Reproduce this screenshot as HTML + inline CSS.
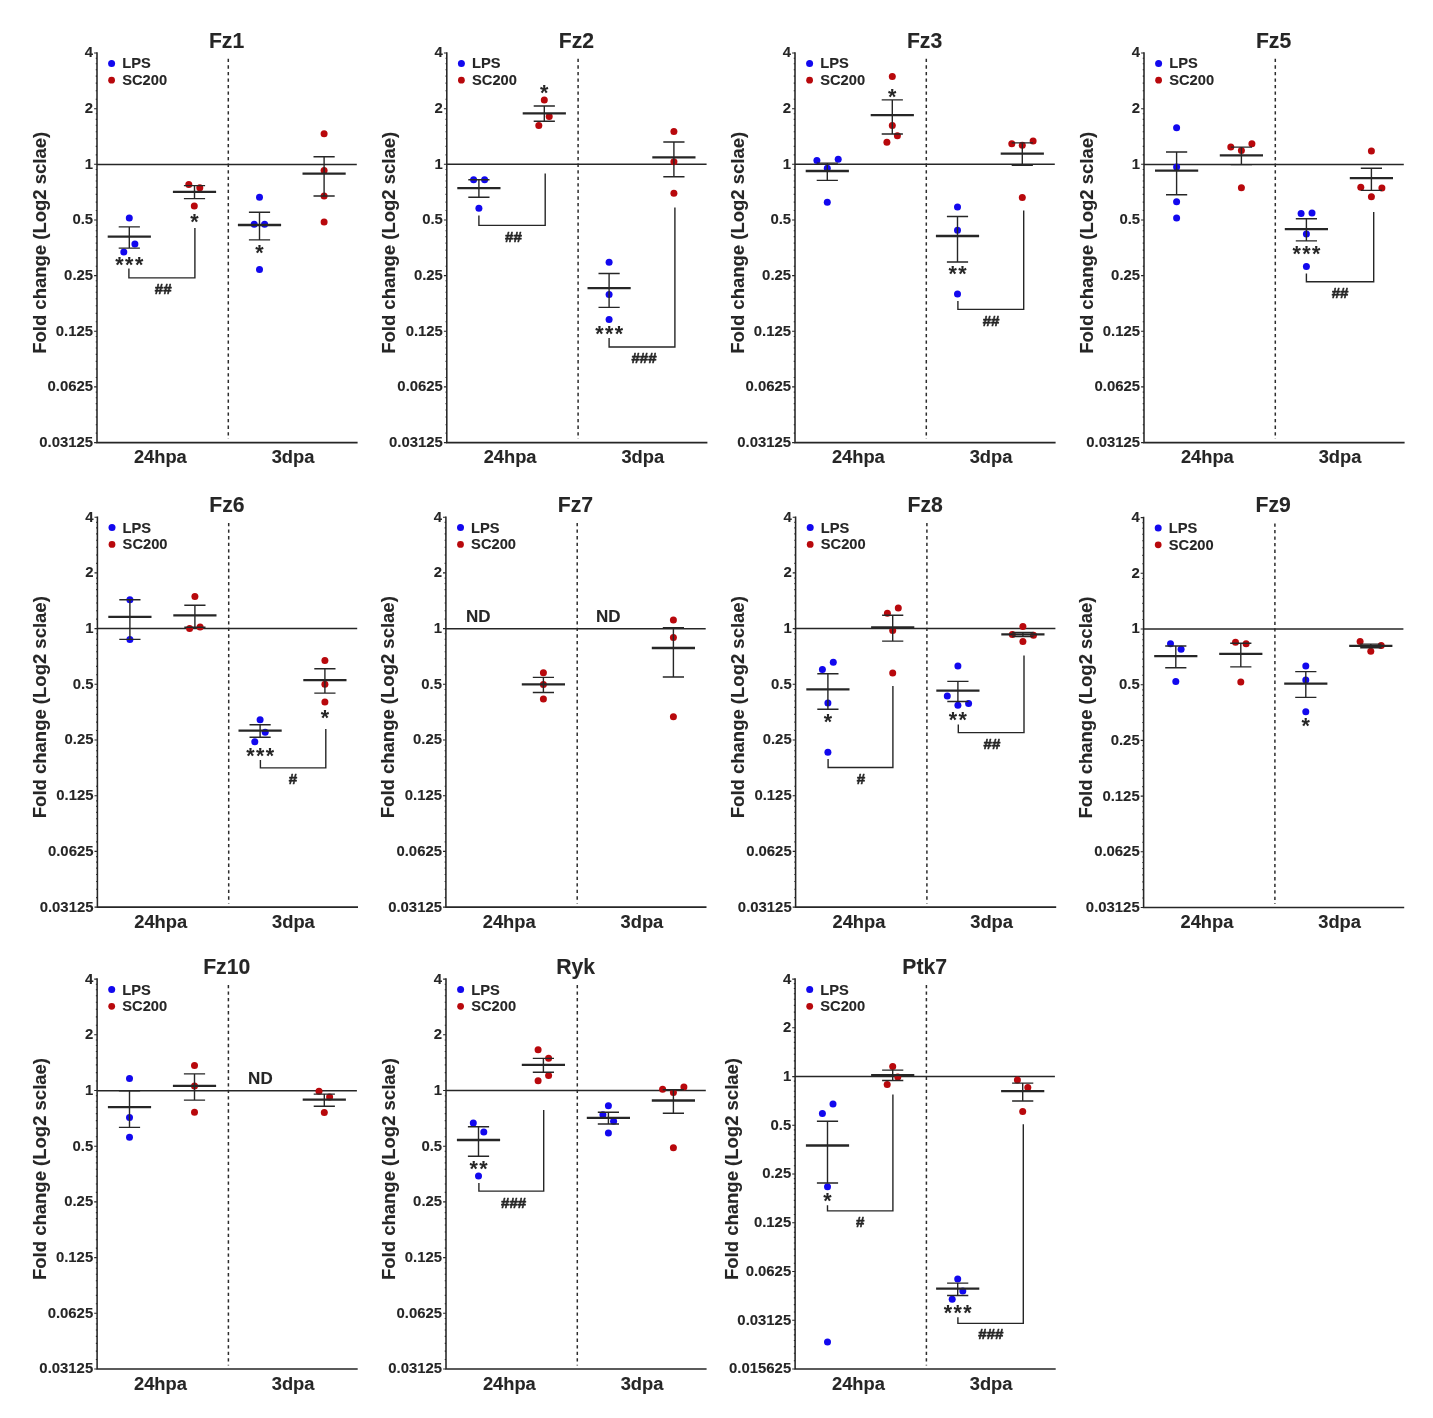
<!DOCTYPE html>
<html lang="en"><head><meta charset="utf-8"><title>Fz receptor expression</title>
<style>
html,body{margin:0;padding:0;background:#fff}
svg{display:block;filter:blur(0.7px)}
text{font-family:"Liberation Sans",sans-serif;fill:#262626;stroke:#262626;stroke-width:0.1px;stroke-linejoin:round}
.b{font-weight:bold}
.t{font-size:14.9px;font-weight:bold;text-anchor:end}
.ti{font-size:21.2px;font-weight:bold;text-anchor:middle}
.xl{font-size:18.3px;font-weight:bold;text-anchor:middle}
.yl{font-size:18.5px;font-weight:bold;text-anchor:middle}
.lg{font-size:14.7px;font-weight:bold}
.st{font-size:21.5px;text-anchor:middle;font-weight:bold;letter-spacing:1.4px;stroke-width:0}
.hs{font-size:15.1px;text-anchor:middle;font-weight:bold;stroke-width:0.55px}
.nd{font-size:17px;font-weight:bold;text-anchor:middle}
.ln{stroke:#262626;fill:none}
</style></head><body>
<svg width="1433" height="1418" viewBox="0 0 1433 1418">
<rect width="1433" height="1418" fill="#fff"/>
<g>
<text class="ti" x="226.6" y="47.7">Fz1</text>
<text class="yl" transform="translate(45.5 242.8) rotate(-90)">Fold change (Log2 sclae)</text>
<line x1="228.3" y1="58.8" x2="228.3" y2="439.1" stroke="#2c2c2c" stroke-width="1.5" stroke-dasharray="3.3 3.25"/>
<line class="ln" x1="97" y1="164.4" x2="356.8" y2="164.4" stroke-width="1.5"/>
<path class="ln" d="M97 52.2V442.6H357.6" stroke-width="1.55"/>
<text class="t" x="93.1" y="57.4">4</text>
<text class="t" x="93.1" y="113">2</text>
<text class="t" x="93.1" y="168.7">1</text>
<text class="t" x="93.1" y="224.3">0.5</text>
<text class="t" x="93.1" y="280">0.25</text>
<text class="t" x="93.1" y="335.6">0.125</text>
<text class="t" x="93.1" y="391.3">0.0625</text>
<text class="t" x="93.1" y="447">0.03125</text>
<path class="ln" d="M97 53h-2.9M97 108.7h-2.9M97 164.3h-2.9M97 220h-2.9M97 275.6h-2.9M97 331.3h-2.9M97 386.9h-2.9M97 442.6h-2.9M97 99.2h-1.25M97 90.7h-1.25M97 83.1h-1.25M97 76.1h-1.25M97 69.7h-1.25M97 63.7h-1.25M97 58.2h-1.25M97 154.9h-1.25M97 146.4h-1.25M97 138.7h-1.25M97 131.8h-1.25M97 125.3h-1.25M97 119.4h-1.25M97 113.8h-1.25M97 210.5h-1.25M97 202.1h-1.25M97 194.4h-1.25M97 187.4h-1.25M97 181h-1.25M97 175h-1.25M97 169.5h-1.25M97 266.2h-1.25M97 257.7h-1.25M97 250.1h-1.25M97 243.1h-1.25M97 236.6h-1.25M97 230.7h-1.25M97 225.2h-1.25M97 321.8h-1.25M97 313.4h-1.25M97 305.7h-1.25M97 298.7h-1.25M97 292.3h-1.25M97 286.4h-1.25M97 280.8h-1.25M97 377.5h-1.25M97 369h-1.25M97 361.4h-1.25M97 354.4h-1.25M97 348h-1.25M97 342h-1.25M97 336.5h-1.25M97 433.1h-1.25M97 424.7h-1.25M97 417h-1.25M97 410h-1.25M97 403.6h-1.25M97 397.7h-1.25M97 392.1h-1.25" stroke-width="1.1"/>
<text class="xl" x="160.3" y="463.2">24hpa</text>
<text class="xl" x="293" y="463.2">3dpa</text>
<circle cx="111.6" cy="63.4" r="3.5" fill="#1208ee"/><circle cx="111.6" cy="80.2" r="3.4" fill="#b8080c"/>
<text class="lg" x="122.2" y="68.4">LPS</text><text class="lg" x="122.2" y="85.1">SC200</text>
<circle cx="129.3" cy="218" r="3.5" fill="#1208ee"/><circle cx="134.9" cy="244" r="3.5" fill="#1208ee"/><circle cx="123.8" cy="251.9" r="3.5" fill="#1208ee"/>
<circle cx="188.8" cy="184.5" r="3.5" fill="#b8080c"/><circle cx="199.8" cy="187.8" r="3.5" fill="#b8080c"/><circle cx="194.3" cy="206.1" r="3.5" fill="#b8080c"/>
<circle cx="259.5" cy="197.3" r="3.5" fill="#1208ee"/><circle cx="254.2" cy="224.2" r="3.5" fill="#1208ee"/><circle cx="264.6" cy="224.2" r="3.5" fill="#1208ee"/><circle cx="259.5" cy="269.4" r="3.5" fill="#1208ee"/>
<circle cx="324.1" cy="133.8" r="3.5" fill="#b8080c"/><circle cx="324.1" cy="170.5" r="3.5" fill="#b8080c"/><circle cx="324.1" cy="196" r="3.5" fill="#b8080c"/><circle cx="324.1" cy="222" r="3.5" fill="#b8080c"/>
<path class="ln" d="M129.3 226.9V248.1M118.7 226.9h21.2M118.7 248.1h21.2" stroke-width="1.4"/><line class="ln" x1="107.7" y1="236.7" x2="150.9" y2="236.7" stroke-width="2.3"/>
<path class="ln" d="M194.5 185.6V198.6M183.9 185.6h21.2M183.9 198.6h21.2" stroke-width="1.4"/><line class="ln" x1="172.9" y1="191.8" x2="216.1" y2="191.8" stroke-width="2.3"/>
<path class="ln" d="M259.5 212.2V239.9M248.9 212.2h21.2M248.9 239.9h21.2" stroke-width="1.4"/><line class="ln" x1="237.9" y1="225" x2="281.1" y2="225" stroke-width="2.3"/>
<path class="ln" d="M324.1 156.8V196M313.5 156.8h21.2M313.5 196h21.2" stroke-width="1.4"/><line class="ln" x1="302.5" y1="173.7" x2="345.7" y2="173.7" stroke-width="2.3"/>
<path class="ln" d="M128.9 268.5V277.9H194.9V228" stroke-width="1.4"/>
<text class="st" x="130" y="271.6">***</text>
<text class="st" x="195.2" y="228.8">*</text>
<text class="st" x="260.2" y="259.7">*</text>
<text class="hs" x="163.2" y="294.3">##</text>
</g>
<g>
<text class="ti" x="576.4" y="47.7">Fz2</text>
<text class="yl" transform="translate(395.3 242.8) rotate(-90)">Fold change (Log2 sclae)</text>
<line x1="578.1" y1="58.8" x2="578.1" y2="439.1" stroke="#2c2c2c" stroke-width="1.5" stroke-dasharray="3.3 3.25"/>
<line class="ln" x1="446.8" y1="164.3" x2="706.6" y2="164.3" stroke-width="1.5"/>
<path class="ln" d="M446.8 52.2V442.6H707.4" stroke-width="1.55"/>
<text class="t" x="442.9" y="57.4">4</text>
<text class="t" x="442.9" y="113">2</text>
<text class="t" x="442.9" y="168.7">1</text>
<text class="t" x="442.9" y="224.3">0.5</text>
<text class="t" x="442.9" y="280">0.25</text>
<text class="t" x="442.9" y="335.6">0.125</text>
<text class="t" x="442.9" y="391.3">0.0625</text>
<text class="t" x="442.9" y="447">0.03125</text>
<path class="ln" d="M446.8 53h-2.9M446.8 108.7h-2.9M446.8 164.3h-2.9M446.8 220h-2.9M446.8 275.6h-2.9M446.8 331.3h-2.9M446.8 386.9h-2.9M446.8 442.6h-2.9M446.8 99.2h-1.25M446.8 90.7h-1.25M446.8 83.1h-1.25M446.8 76.1h-1.25M446.8 69.7h-1.25M446.8 63.7h-1.25M446.8 58.2h-1.25M446.8 154.9h-1.25M446.8 146.4h-1.25M446.8 138.7h-1.25M446.8 131.8h-1.25M446.8 125.3h-1.25M446.8 119.4h-1.25M446.8 113.8h-1.25M446.8 210.5h-1.25M446.8 202.1h-1.25M446.8 194.4h-1.25M446.8 187.4h-1.25M446.8 181h-1.25M446.8 175h-1.25M446.8 169.5h-1.25M446.8 266.2h-1.25M446.8 257.7h-1.25M446.8 250.1h-1.25M446.8 243.1h-1.25M446.8 236.6h-1.25M446.8 230.7h-1.25M446.8 225.2h-1.25M446.8 321.8h-1.25M446.8 313.4h-1.25M446.8 305.7h-1.25M446.8 298.7h-1.25M446.8 292.3h-1.25M446.8 286.4h-1.25M446.8 280.8h-1.25M446.8 377.5h-1.25M446.8 369h-1.25M446.8 361.4h-1.25M446.8 354.4h-1.25M446.8 348h-1.25M446.8 342h-1.25M446.8 336.5h-1.25M446.8 433.1h-1.25M446.8 424.7h-1.25M446.8 417h-1.25M446.8 410h-1.25M446.8 403.6h-1.25M446.8 397.7h-1.25M446.8 392.1h-1.25" stroke-width="1.1"/>
<text class="xl" x="510.1" y="463.2">24hpa</text>
<text class="xl" x="642.8" y="463.2">3dpa</text>
<circle cx="461.4" cy="63.4" r="3.5" fill="#1208ee"/><circle cx="461.4" cy="80.2" r="3.4" fill="#b8080c"/>
<text class="lg" x="472" y="68.4">LPS</text><text class="lg" x="472" y="85.1">SC200</text>
<circle cx="473.6" cy="179.7" r="3.5" fill="#1208ee"/><circle cx="484.6" cy="179.7" r="3.5" fill="#1208ee"/><circle cx="478.9" cy="208.3" r="3.5" fill="#1208ee"/>
<circle cx="544.3" cy="99.9" r="3.5" fill="#b8080c"/><circle cx="549.2" cy="116.5" r="3.5" fill="#b8080c"/><circle cx="538.8" cy="125.6" r="3.5" fill="#b8080c"/>
<circle cx="609.1" cy="262.2" r="3.5" fill="#1208ee"/><circle cx="609.1" cy="294.6" r="3.5" fill="#1208ee"/><circle cx="609.1" cy="319.5" r="3.5" fill="#1208ee"/>
<circle cx="673.9" cy="131.6" r="3.5" fill="#b8080c"/><circle cx="673.9" cy="161.8" r="3.5" fill="#b8080c"/><circle cx="673.9" cy="193.2" r="3.5" fill="#b8080c"/>
<path class="ln" d="M478.9 179.7V197.2M468.3 179.7h21.2M468.3 197.2h21.2" stroke-width="1.4"/><line class="ln" x1="457.3" y1="188.1" x2="500.5" y2="188.1" stroke-width="2.3"/>
<path class="ln" d="M544.3 106V121.2M533.7 106h21.2M533.7 121.2h21.2" stroke-width="1.4"/><line class="ln" x1="522.7" y1="113.3" x2="565.9" y2="113.3" stroke-width="2.3"/>
<path class="ln" d="M609.1 273.5V307.4M598.5 273.5h21.2M598.5 307.4h21.2" stroke-width="1.4"/><line class="ln" x1="587.5" y1="288.2" x2="630.7" y2="288.2" stroke-width="2.3"/>
<path class="ln" d="M673.9 142V176.8M663.3 142h21.2M663.3 176.8h21.2" stroke-width="1.4"/><line class="ln" x1="652.3" y1="157.4" x2="695.5" y2="157.4" stroke-width="2.3"/>
<path class="ln" d="M478.9 215.5V225.4H545.2V173.6" stroke-width="1.4"/>
<path class="ln" d="M609.1 338.1V347H674.9V207.5" stroke-width="1.4"/>
<text class="st" x="545" y="99.8">*</text>
<text class="st" x="609.8" y="341.2">***</text>
<text class="hs" x="513.4" y="242">##</text>
<text class="hs" x="644" y="363.4">###</text>
</g>
<g>
<text class="ti" x="924.6" y="47.7">Fz3</text>
<text class="yl" transform="translate(743.5 242.8) rotate(-90)">Fold change (Log2 sclae)</text>
<line x1="926.3" y1="58.8" x2="926.3" y2="439.1" stroke="#2c2c2c" stroke-width="1.5" stroke-dasharray="3.3 3.25"/>
<line class="ln" x1="795" y1="164.2" x2="1054.8" y2="164.2" stroke-width="1.5"/>
<path class="ln" d="M795 52.2V442.6H1055.6" stroke-width="1.55"/>
<text class="t" x="791.1" y="57.4">4</text>
<text class="t" x="791.1" y="113">2</text>
<text class="t" x="791.1" y="168.7">1</text>
<text class="t" x="791.1" y="224.3">0.5</text>
<text class="t" x="791.1" y="280">0.25</text>
<text class="t" x="791.1" y="335.6">0.125</text>
<text class="t" x="791.1" y="391.3">0.0625</text>
<text class="t" x="791.1" y="447">0.03125</text>
<path class="ln" d="M795 53h-2.9M795 108.7h-2.9M795 164.3h-2.9M795 220h-2.9M795 275.6h-2.9M795 331.3h-2.9M795 386.9h-2.9M795 442.6h-2.9M795 99.2h-1.25M795 90.7h-1.25M795 83.1h-1.25M795 76.1h-1.25M795 69.7h-1.25M795 63.7h-1.25M795 58.2h-1.25M795 154.9h-1.25M795 146.4h-1.25M795 138.7h-1.25M795 131.8h-1.25M795 125.3h-1.25M795 119.4h-1.25M795 113.8h-1.25M795 210.5h-1.25M795 202.1h-1.25M795 194.4h-1.25M795 187.4h-1.25M795 181h-1.25M795 175h-1.25M795 169.5h-1.25M795 266.2h-1.25M795 257.7h-1.25M795 250.1h-1.25M795 243.1h-1.25M795 236.6h-1.25M795 230.7h-1.25M795 225.2h-1.25M795 321.8h-1.25M795 313.4h-1.25M795 305.7h-1.25M795 298.7h-1.25M795 292.3h-1.25M795 286.4h-1.25M795 280.8h-1.25M795 377.5h-1.25M795 369h-1.25M795 361.4h-1.25M795 354.4h-1.25M795 348h-1.25M795 342h-1.25M795 336.5h-1.25M795 433.1h-1.25M795 424.7h-1.25M795 417h-1.25M795 410h-1.25M795 403.6h-1.25M795 397.7h-1.25M795 392.1h-1.25" stroke-width="1.1"/>
<text class="xl" x="858.3" y="463.2">24hpa</text>
<text class="xl" x="991" y="463.2">3dpa</text>
<circle cx="809.6" cy="63.4" r="3.5" fill="#1208ee"/><circle cx="809.6" cy="80.2" r="3.4" fill="#b8080c"/>
<text class="lg" x="820.2" y="68.4">LPS</text><text class="lg" x="820.2" y="85.1">SC200</text>
<circle cx="816.9" cy="160.6" r="3.5" fill="#1208ee"/><circle cx="838.2" cy="159.3" r="3.5" fill="#1208ee"/><circle cx="827.3" cy="168.3" r="3.5" fill="#1208ee"/><circle cx="827.3" cy="202.3" r="3.5" fill="#1208ee"/>
<circle cx="892.3" cy="76.4" r="3.5" fill="#b8080c"/><circle cx="892.3" cy="125.4" r="3.5" fill="#b8080c"/><circle cx="897.4" cy="135.7" r="3.5" fill="#b8080c"/><circle cx="886.9" cy="142.3" r="3.5" fill="#b8080c"/>
<circle cx="957.5" cy="207.1" r="3.5" fill="#1208ee"/><circle cx="957.5" cy="230.3" r="3.5" fill="#1208ee"/><circle cx="957.5" cy="294" r="3.5" fill="#1208ee"/>
<circle cx="1011.8" cy="143.7" r="3.5" fill="#b8080c"/><circle cx="1022.3" cy="145.2" r="3.5" fill="#b8080c"/><circle cx="1033.1" cy="141" r="3.5" fill="#b8080c"/><circle cx="1022.3" cy="197.4" r="3.5" fill="#b8080c"/>
<path class="ln" d="M827.3 163.1V180.4M816.7 163.1h21.2M816.7 180.4h21.2" stroke-width="1.4"/><line class="ln" x1="805.7" y1="171" x2="848.9" y2="171" stroke-width="2.3"/>
<path class="ln" d="M892.3 99.9V134M881.7 99.9h21.2M881.7 134h21.2" stroke-width="1.4"/><line class="ln" x1="870.7" y1="115.2" x2="913.9" y2="115.2" stroke-width="2.3"/>
<path class="ln" d="M957.5 216.5V262M946.9 216.5h21.2M946.9 262h21.2" stroke-width="1.4"/><line class="ln" x1="935.9" y1="236" x2="979.1" y2="236" stroke-width="2.3"/>
<path class="ln" d="M1022.3 142.9V165.3M1011.7 142.9h21.2M1011.7 165.3h21.2" stroke-width="1.4"/><line class="ln" x1="1000.7" y1="153.6" x2="1043.9" y2="153.6" stroke-width="2.3"/>
<path class="ln" d="M957.9 301V309.4H1023.7V210.5" stroke-width="1.4"/>
<text class="st" x="893" y="103.6">*</text>
<text class="st" x="958.2" y="280.5">**</text>
<text class="hs" x="991.1" y="326.2">##</text>
</g>
<g>
<text class="ti" x="1273.6" y="47.7">Fz5</text>
<text class="yl" transform="translate(1092.5 242.8) rotate(-90)">Fold change (Log2 sclae)</text>
<line x1="1275.3" y1="58.8" x2="1275.3" y2="439.1" stroke="#2c2c2c" stroke-width="1.5" stroke-dasharray="3.3 3.25"/>
<line class="ln" x1="1144" y1="164.4" x2="1403.8" y2="164.4" stroke-width="1.5"/>
<path class="ln" d="M1144 52.2V442.6H1404.6" stroke-width="1.55"/>
<text class="t" x="1140.1" y="57.4">4</text>
<text class="t" x="1140.1" y="113">2</text>
<text class="t" x="1140.1" y="168.7">1</text>
<text class="t" x="1140.1" y="224.3">0.5</text>
<text class="t" x="1140.1" y="280">0.25</text>
<text class="t" x="1140.1" y="335.6">0.125</text>
<text class="t" x="1140.1" y="391.3">0.0625</text>
<text class="t" x="1140.1" y="447">0.03125</text>
<path class="ln" d="M1144 53h-2.9M1144 108.7h-2.9M1144 164.3h-2.9M1144 220h-2.9M1144 275.6h-2.9M1144 331.3h-2.9M1144 386.9h-2.9M1144 442.6h-2.9M1144 99.2h-1.25M1144 90.7h-1.25M1144 83.1h-1.25M1144 76.1h-1.25M1144 69.7h-1.25M1144 63.7h-1.25M1144 58.2h-1.25M1144 154.9h-1.25M1144 146.4h-1.25M1144 138.7h-1.25M1144 131.8h-1.25M1144 125.3h-1.25M1144 119.4h-1.25M1144 113.8h-1.25M1144 210.5h-1.25M1144 202.1h-1.25M1144 194.4h-1.25M1144 187.4h-1.25M1144 181h-1.25M1144 175h-1.25M1144 169.5h-1.25M1144 266.2h-1.25M1144 257.7h-1.25M1144 250.1h-1.25M1144 243.1h-1.25M1144 236.6h-1.25M1144 230.7h-1.25M1144 225.2h-1.25M1144 321.8h-1.25M1144 313.4h-1.25M1144 305.7h-1.25M1144 298.7h-1.25M1144 292.3h-1.25M1144 286.4h-1.25M1144 280.8h-1.25M1144 377.5h-1.25M1144 369h-1.25M1144 361.4h-1.25M1144 354.4h-1.25M1144 348h-1.25M1144 342h-1.25M1144 336.5h-1.25M1144 433.1h-1.25M1144 424.7h-1.25M1144 417h-1.25M1144 410h-1.25M1144 403.6h-1.25M1144 397.7h-1.25M1144 392.1h-1.25" stroke-width="1.1"/>
<text class="xl" x="1207.3" y="463.2">24hpa</text>
<text class="xl" x="1340" y="463.2">3dpa</text>
<circle cx="1158.6" cy="63.4" r="3.5" fill="#1208ee"/><circle cx="1158.6" cy="80.2" r="3.4" fill="#b8080c"/>
<text class="lg" x="1169.2" y="68.4">LPS</text><text class="lg" x="1169.2" y="85.1">SC200</text>
<circle cx="1176.6" cy="127.7" r="3.5" fill="#1208ee"/><circle cx="1176.6" cy="166.9" r="3.5" fill="#1208ee"/><circle cx="1176.6" cy="201.8" r="3.5" fill="#1208ee"/><circle cx="1176.6" cy="218.1" r="3.5" fill="#1208ee"/>
<circle cx="1230.8" cy="147.1" r="3.5" fill="#b8080c"/><circle cx="1241.4" cy="150.5" r="3.5" fill="#b8080c"/><circle cx="1251.9" cy="143.7" r="3.5" fill="#b8080c"/><circle cx="1241.4" cy="187.8" r="3.5" fill="#b8080c"/>
<circle cx="1301.1" cy="213.4" r="3.5" fill="#1208ee"/><circle cx="1312" cy="213.1" r="3.5" fill="#1208ee"/><circle cx="1306.4" cy="234" r="3.5" fill="#1208ee"/><circle cx="1306.4" cy="266.6" r="3.5" fill="#1208ee"/>
<circle cx="1371.4" cy="151.1" r="3.5" fill="#b8080c"/><circle cx="1360.8" cy="187.2" r="3.5" fill="#b8080c"/><circle cx="1381.9" cy="188" r="3.5" fill="#b8080c"/><circle cx="1371.4" cy="196.7" r="3.5" fill="#b8080c"/>
<path class="ln" d="M1176.6 152V194.8M1166 152h21.2M1166 194.8h21.2" stroke-width="1.4"/><line class="ln" x1="1155" y1="170.7" x2="1198.2" y2="170.7" stroke-width="2.3"/>
<path class="ln" d="M1241.4 147.1V164.6M1230.8 147.1h21.2M1230.8 164.6h21.2" stroke-width="1.4"/><line class="ln" x1="1219.8" y1="155.4" x2="1263" y2="155.4" stroke-width="2.3"/>
<path class="ln" d="M1306.4 218.7V240.9M1295.8 218.7h21.2M1295.8 240.9h21.2" stroke-width="1.4"/><line class="ln" x1="1284.8" y1="229.1" x2="1328" y2="229.1" stroke-width="2.3"/>
<path class="ln" d="M1371.4 168.2V190.4M1360.8 168.2h21.2M1360.8 190.4h21.2" stroke-width="1.4"/><line class="ln" x1="1349.8" y1="178.2" x2="1393" y2="178.2" stroke-width="2.3"/>
<path class="ln" d="M1306.4 273.4V281.8H1373.7V212.1" stroke-width="1.4"/>
<text class="st" x="1307.1" y="261.3">***</text>
<text class="hs" x="1340.1" y="298.1">##</text>
</g>
<g>
<text class="ti" x="227" y="511.9">Fz6</text>
<text class="yl" transform="translate(45.9 707.2) rotate(-90)">Fold change (Log2 sclae)</text>
<line x1="228.7" y1="523" x2="228.7" y2="903.6" stroke="#2c2c2c" stroke-width="1.5" stroke-dasharray="3.3 3.25"/>
<line class="ln" x1="97.4" y1="628.6" x2="357.2" y2="628.6" stroke-width="1.5"/>
<path class="ln" d="M97.4 516.4V907.1H358" stroke-width="1.55"/>
<text class="t" x="93.5" y="521.6">4</text>
<text class="t" x="93.5" y="577.3">2</text>
<text class="t" x="93.5" y="633">1</text>
<text class="t" x="93.5" y="688.7">0.5</text>
<text class="t" x="93.5" y="744.4">0.25</text>
<text class="t" x="93.5" y="800.1">0.125</text>
<text class="t" x="93.5" y="855.8">0.0625</text>
<text class="t" x="93.5" y="911.5">0.03125</text>
<path class="ln" d="M97.4 517.2h-2.9M97.4 572.9h-2.9M97.4 628.6h-2.9M97.4 684.3h-2.9M97.4 740h-2.9M97.4 795.7h-2.9M97.4 851.4h-2.9M97.4 907.1h-2.9M97.4 563.4h-1.25M97.4 555h-1.25M97.4 547.3h-1.25M97.4 540.3h-1.25M97.4 533.9h-1.25M97.4 527.9h-1.25M97.4 522.4h-1.25M97.4 619.1h-1.25M97.4 610.7h-1.25M97.4 603h-1.25M97.4 596h-1.25M97.4 589.6h-1.25M97.4 583.6h-1.25M97.4 578.1h-1.25M97.4 674.8h-1.25M97.4 666.4h-1.25M97.4 658.7h-1.25M97.4 651.7h-1.25M97.4 645.3h-1.25M97.4 639.3h-1.25M97.4 633.8h-1.25M97.4 730.5h-1.25M97.4 722.1h-1.25M97.4 714.4h-1.25M97.4 707.4h-1.25M97.4 701h-1.25M97.4 695h-1.25M97.4 689.5h-1.25M97.4 786.2h-1.25M97.4 777.8h-1.25M97.4 770.1h-1.25M97.4 763.1h-1.25M97.4 756.7h-1.25M97.4 750.7h-1.25M97.4 745.2h-1.25M97.4 841.9h-1.25M97.4 833.5h-1.25M97.4 825.8h-1.25M97.4 818.8h-1.25M97.4 812.4h-1.25M97.4 806.4h-1.25M97.4 800.9h-1.25M97.4 897.6h-1.25M97.4 889.2h-1.25M97.4 881.5h-1.25M97.4 874.5h-1.25M97.4 868.1h-1.25M97.4 862.1h-1.25M97.4 856.6h-1.25" stroke-width="1.1"/>
<text class="xl" x="160.7" y="927.7">24hpa</text>
<text class="xl" x="293.4" y="927.7">3dpa</text>
<circle cx="112" cy="527.6" r="3.5" fill="#1208ee"/><circle cx="112" cy="544.4" r="3.4" fill="#b8080c"/>
<text class="lg" x="122.6" y="532.6">LPS</text><text class="lg" x="122.6" y="549.3">SC200</text>
<circle cx="129.9" cy="599.8" r="3.5" fill="#1208ee"/><circle cx="129.9" cy="639.4" r="3.5" fill="#1208ee"/>
<circle cx="194.9" cy="596.6" r="3.5" fill="#b8080c"/><circle cx="189.6" cy="628.6" r="3.5" fill="#b8080c"/><circle cx="200.1" cy="627.1" r="3.5" fill="#b8080c"/>
<circle cx="260.1" cy="719.8" r="3.5" fill="#1208ee"/><circle cx="265.2" cy="732.3" r="3.5" fill="#1208ee"/><circle cx="254.8" cy="741.7" r="3.5" fill="#1208ee"/>
<circle cx="324.9" cy="660.6" r="3.5" fill="#b8080c"/><circle cx="324.9" cy="684.2" r="3.5" fill="#b8080c"/><circle cx="324.9" cy="701.9" r="3.5" fill="#b8080c"/>
<path class="ln" d="M129.9 599.8V639.4M119.3 599.8h21.2M119.3 639.4h21.2" stroke-width="1.4"/><line class="ln" x1="108.3" y1="616.9" x2="151.5" y2="616.9" stroke-width="2.3"/>
<path class="ln" d="M194.9 605.2V627.3M184.3 605.2h21.2M184.3 627.3h21.2" stroke-width="1.4"/><line class="ln" x1="173.3" y1="615.4" x2="216.5" y2="615.4" stroke-width="2.3"/>
<path class="ln" d="M260.1 724.7V737.2M249.5 724.7h21.2M249.5 737.2h21.2" stroke-width="1.4"/><line class="ln" x1="238.5" y1="730.7" x2="281.7" y2="730.7" stroke-width="2.3"/>
<path class="ln" d="M324.9 668.8V693.1M314.3 668.8h21.2M314.3 693.1h21.2" stroke-width="1.4"/><line class="ln" x1="303.3" y1="680.2" x2="346.5" y2="680.2" stroke-width="2.3"/>
<path class="ln" d="M260.4 760V767.9H325.8V728.9" stroke-width="1.4"/>
<text class="st" x="260.8" y="763.2">***</text>
<text class="st" x="325.6" y="725">*</text>
<text class="hs" x="292.9" y="783.7">#</text>
</g>
<g>
<text class="ti" x="575.5" y="511.9">Fz7</text>
<text class="yl" transform="translate(394.4 707.2) rotate(-90)">Fold change (Log2 sclae)</text>
<line x1="577.2" y1="523" x2="577.2" y2="903.6" stroke="#2c2c2c" stroke-width="1.5" stroke-dasharray="3.3 3.25"/>
<line class="ln" x1="445.9" y1="628.8" x2="705.7" y2="628.8" stroke-width="1.5"/>
<path class="ln" d="M445.9 516.4V907.1H706.5" stroke-width="1.55"/>
<text class="t" x="442" y="521.6">4</text>
<text class="t" x="442" y="577.3">2</text>
<text class="t" x="442" y="633">1</text>
<text class="t" x="442" y="688.7">0.5</text>
<text class="t" x="442" y="744.4">0.25</text>
<text class="t" x="442" y="800.1">0.125</text>
<text class="t" x="442" y="855.8">0.0625</text>
<text class="t" x="442" y="911.5">0.03125</text>
<path class="ln" d="M445.9 517.2h-2.9M445.9 572.9h-2.9M445.9 628.6h-2.9M445.9 684.3h-2.9M445.9 740h-2.9M445.9 795.7h-2.9M445.9 851.4h-2.9M445.9 907.1h-2.9M445.9 563.4h-1.25M445.9 555h-1.25M445.9 547.3h-1.25M445.9 540.3h-1.25M445.9 533.9h-1.25M445.9 527.9h-1.25M445.9 522.4h-1.25M445.9 619.1h-1.25M445.9 610.7h-1.25M445.9 603h-1.25M445.9 596h-1.25M445.9 589.6h-1.25M445.9 583.6h-1.25M445.9 578.1h-1.25M445.9 674.8h-1.25M445.9 666.4h-1.25M445.9 658.7h-1.25M445.9 651.7h-1.25M445.9 645.3h-1.25M445.9 639.3h-1.25M445.9 633.8h-1.25M445.9 730.5h-1.25M445.9 722.1h-1.25M445.9 714.4h-1.25M445.9 707.4h-1.25M445.9 701h-1.25M445.9 695h-1.25M445.9 689.5h-1.25M445.9 786.2h-1.25M445.9 777.8h-1.25M445.9 770.1h-1.25M445.9 763.1h-1.25M445.9 756.7h-1.25M445.9 750.7h-1.25M445.9 745.2h-1.25M445.9 841.9h-1.25M445.9 833.5h-1.25M445.9 825.8h-1.25M445.9 818.8h-1.25M445.9 812.4h-1.25M445.9 806.4h-1.25M445.9 800.9h-1.25M445.9 897.6h-1.25M445.9 889.2h-1.25M445.9 881.5h-1.25M445.9 874.5h-1.25M445.9 868.1h-1.25M445.9 862.1h-1.25M445.9 856.6h-1.25" stroke-width="1.1"/>
<text class="xl" x="509.2" y="927.7">24hpa</text>
<text class="xl" x="641.9" y="927.7">3dpa</text>
<circle cx="460.5" cy="527.6" r="3.5" fill="#1208ee"/><circle cx="460.5" cy="544.4" r="3.4" fill="#b8080c"/>
<text class="lg" x="471.1" y="532.6">LPS</text><text class="lg" x="471.1" y="549.3">SC200</text>
<circle cx="543.4" cy="672.7" r="3.5" fill="#b8080c"/><circle cx="543.4" cy="684.4" r="3.5" fill="#b8080c"/><circle cx="543.4" cy="699.1" r="3.5" fill="#b8080c"/>
<circle cx="673.4" cy="619.9" r="3.5" fill="#b8080c"/><circle cx="673.4" cy="637.6" r="3.5" fill="#b8080c"/><circle cx="673.4" cy="716.8" r="3.5" fill="#b8080c"/>
<path class="ln" d="M543.4 677.4V692.5M532.8 677.4h21.2M532.8 692.5h21.2" stroke-width="1.4"/><line class="ln" x1="521.8" y1="684.4" x2="565" y2="684.4" stroke-width="2.3"/>
<path class="ln" d="M673.4 627.8V677M662.8 627.8h21.2M662.8 677h21.2" stroke-width="1.4"/><line class="ln" x1="651.8" y1="648" x2="695" y2="648" stroke-width="2.3"/>
<text class="nd" x="478.2" y="621.8">ND</text>
<text class="nd" x="608.2" y="621.8">ND</text>
</g>
<g>
<text class="ti" x="925.2" y="511.9">Fz8</text>
<text class="yl" transform="translate(744.1 707.2) rotate(-90)">Fold change (Log2 sclae)</text>
<line x1="926.9" y1="523" x2="926.9" y2="903.6" stroke="#2c2c2c" stroke-width="1.5" stroke-dasharray="3.3 3.25"/>
<line class="ln" x1="795.6" y1="628.6" x2="1055.4" y2="628.6" stroke-width="1.5"/>
<path class="ln" d="M795.6 516.4V907.1H1056.2" stroke-width="1.55"/>
<text class="t" x="791.7" y="521.6">4</text>
<text class="t" x="791.7" y="577.3">2</text>
<text class="t" x="791.7" y="633">1</text>
<text class="t" x="791.7" y="688.7">0.5</text>
<text class="t" x="791.7" y="744.4">0.25</text>
<text class="t" x="791.7" y="800.1">0.125</text>
<text class="t" x="791.7" y="855.8">0.0625</text>
<text class="t" x="791.7" y="911.5">0.03125</text>
<path class="ln" d="M795.6 517.2h-2.9M795.6 572.9h-2.9M795.6 628.6h-2.9M795.6 684.3h-2.9M795.6 740h-2.9M795.6 795.7h-2.9M795.6 851.4h-2.9M795.6 907.1h-2.9M795.6 563.4h-1.25M795.6 555h-1.25M795.6 547.3h-1.25M795.6 540.3h-1.25M795.6 533.9h-1.25M795.6 527.9h-1.25M795.6 522.4h-1.25M795.6 619.1h-1.25M795.6 610.7h-1.25M795.6 603h-1.25M795.6 596h-1.25M795.6 589.6h-1.25M795.6 583.6h-1.25M795.6 578.1h-1.25M795.6 674.8h-1.25M795.6 666.4h-1.25M795.6 658.7h-1.25M795.6 651.7h-1.25M795.6 645.3h-1.25M795.6 639.3h-1.25M795.6 633.8h-1.25M795.6 730.5h-1.25M795.6 722.1h-1.25M795.6 714.4h-1.25M795.6 707.4h-1.25M795.6 701h-1.25M795.6 695h-1.25M795.6 689.5h-1.25M795.6 786.2h-1.25M795.6 777.8h-1.25M795.6 770.1h-1.25M795.6 763.1h-1.25M795.6 756.7h-1.25M795.6 750.7h-1.25M795.6 745.2h-1.25M795.6 841.9h-1.25M795.6 833.5h-1.25M795.6 825.8h-1.25M795.6 818.8h-1.25M795.6 812.4h-1.25M795.6 806.4h-1.25M795.6 800.9h-1.25M795.6 897.6h-1.25M795.6 889.2h-1.25M795.6 881.5h-1.25M795.6 874.5h-1.25M795.6 868.1h-1.25M795.6 862.1h-1.25M795.6 856.6h-1.25" stroke-width="1.1"/>
<text class="xl" x="858.9" y="927.7">24hpa</text>
<text class="xl" x="991.6" y="927.7">3dpa</text>
<circle cx="810.2" cy="527.6" r="3.5" fill="#1208ee"/><circle cx="810.2" cy="544.4" r="3.4" fill="#b8080c"/>
<text class="lg" x="820.8" y="532.6">LPS</text><text class="lg" x="820.8" y="549.3">SC200</text>
<circle cx="833.3" cy="662.3" r="3.5" fill="#1208ee"/><circle cx="822.4" cy="669.5" r="3.5" fill="#1208ee"/><circle cx="827.9" cy="702.9" r="3.5" fill="#1208ee"/><circle cx="827.9" cy="752.2" r="3.5" fill="#1208ee"/>
<circle cx="887.4" cy="613.2" r="3.5" fill="#b8080c"/><circle cx="898.3" cy="607.9" r="3.5" fill="#b8080c"/><circle cx="892.7" cy="630.5" r="3.5" fill="#b8080c"/><circle cx="892.7" cy="672.9" r="3.5" fill="#b8080c"/>
<circle cx="957.9" cy="665.9" r="3.5" fill="#1208ee"/><circle cx="947.3" cy="695.9" r="3.5" fill="#1208ee"/><circle cx="968.6" cy="703.4" r="3.5" fill="#1208ee"/><circle cx="957.9" cy="705.3" r="3.5" fill="#1208ee"/>
<circle cx="1022.9" cy="626.5" r="3.5" fill="#b8080c"/><circle cx="1012.3" cy="634.6" r="3.5" fill="#b8080c"/><circle cx="1033.5" cy="635.2" r="3.5" fill="#b8080c"/><circle cx="1022.9" cy="641.6" r="3.5" fill="#b8080c"/>
<path class="ln" d="M827.9 673.7V709.3M817.3 673.7h21.2M817.3 709.3h21.2" stroke-width="1.4"/><line class="ln" x1="806.3" y1="689.3" x2="849.5" y2="689.3" stroke-width="2.3"/>
<path class="ln" d="M892.7 615.2V641.1M882.1 615.2h21.2M882.1 641.1h21.2" stroke-width="1.4"/><line class="ln" x1="871.1" y1="627.5" x2="914.3" y2="627.5" stroke-width="2.3"/>
<path class="ln" d="M957.9 681.4V701.5M947.3 681.4h21.2M947.3 701.5h21.2" stroke-width="1.4"/><line class="ln" x1="936.3" y1="690.6" x2="979.5" y2="690.6" stroke-width="2.3"/>
<path class="ln" d="M1022.9 632.4V636.5M1012.3 632.4h21.2M1012.3 636.5h21.2" stroke-width="1.4"/><line class="ln" x1="1001.3" y1="634.3" x2="1044.5" y2="634.3" stroke-width="2.3"/>
<path class="ln" d="M828.1 759V767.5H892.9V685.9" stroke-width="1.4"/>
<path class="ln" d="M958.3 724.5V732.6H1024V655.4" stroke-width="1.4"/>
<text class="st" x="828.6" y="728.5">*</text>
<text class="st" x="958.6" y="726.6">**</text>
<text class="hs" x="860.9" y="783.7">#</text>
<text class="hs" x="992" y="748.9">##</text>
</g>
<g>
<text class="ti" x="1273.2" y="512.3">Fz9</text>
<text class="yl" transform="translate(1092.1 707.5) rotate(-90)">Fold change (Log2 sclae)</text>
<line x1="1274.9" y1="523.4" x2="1274.9" y2="904" stroke="#2c2c2c" stroke-width="1.5" stroke-dasharray="3.3 3.25"/>
<line class="ln" x1="1143.6" y1="629.1" x2="1403.4" y2="629.1" stroke-width="1.5"/>
<path class="ln" d="M1143.6 516.8V907.5H1404.2" stroke-width="1.55"/>
<text class="t" x="1139.7" y="522">4</text>
<text class="t" x="1139.7" y="577.7">2</text>
<text class="t" x="1139.7" y="633.4">1</text>
<text class="t" x="1139.7" y="689.1">0.5</text>
<text class="t" x="1139.7" y="744.8">0.25</text>
<text class="t" x="1139.7" y="800.5">0.125</text>
<text class="t" x="1139.7" y="856.1">0.0625</text>
<text class="t" x="1139.7" y="911.9">0.03125</text>
<path class="ln" d="M1143.6 517.6h-2.9M1143.6 573.3h-2.9M1143.6 629h-2.9M1143.6 684.7h-2.9M1143.6 740.4h-2.9M1143.6 796.1h-2.9M1143.6 851.8h-2.9M1143.6 907.5h-2.9M1143.6 563.8h-1.25M1143.6 555.4h-1.25M1143.6 547.7h-1.25M1143.6 540.7h-1.25M1143.6 534.3h-1.25M1143.6 528.3h-1.25M1143.6 522.8h-1.25M1143.6 619.5h-1.25M1143.6 611.1h-1.25M1143.6 603.4h-1.25M1143.6 596.4h-1.25M1143.6 590h-1.25M1143.6 584h-1.25M1143.6 578.5h-1.25M1143.6 675.2h-1.25M1143.6 666.8h-1.25M1143.6 659.1h-1.25M1143.6 652.1h-1.25M1143.6 645.7h-1.25M1143.6 639.7h-1.25M1143.6 634.2h-1.25M1143.6 730.9h-1.25M1143.6 722.5h-1.25M1143.6 714.8h-1.25M1143.6 707.8h-1.25M1143.6 701.4h-1.25M1143.6 695.4h-1.25M1143.6 689.9h-1.25M1143.6 786.6h-1.25M1143.6 778.2h-1.25M1143.6 770.5h-1.25M1143.6 763.5h-1.25M1143.6 757.1h-1.25M1143.6 751.1h-1.25M1143.6 745.6h-1.25M1143.6 842.3h-1.25M1143.6 833.9h-1.25M1143.6 826.2h-1.25M1143.6 819.2h-1.25M1143.6 812.8h-1.25M1143.6 806.8h-1.25M1143.6 801.3h-1.25M1143.6 898h-1.25M1143.6 889.6h-1.25M1143.6 881.9h-1.25M1143.6 874.9h-1.25M1143.6 868.5h-1.25M1143.6 862.5h-1.25M1143.6 857h-1.25" stroke-width="1.1"/>
<text class="xl" x="1206.9" y="928.1">24hpa</text>
<text class="xl" x="1339.6" y="928.1">3dpa</text>
<circle cx="1158.2" cy="528" r="3.5" fill="#1208ee"/><circle cx="1158.2" cy="544.8" r="3.4" fill="#b8080c"/>
<text class="lg" x="1168.8" y="533">LPS</text><text class="lg" x="1168.8" y="549.7">SC200</text>
<circle cx="1170.5" cy="643.7" r="3.5" fill="#1208ee"/><circle cx="1181.1" cy="649.2" r="3.5" fill="#1208ee"/><circle cx="1175.8" cy="681.4" r="3.5" fill="#1208ee"/>
<circle cx="1235.5" cy="642.2" r="3.5" fill="#b8080c"/><circle cx="1246.1" cy="643.7" r="3.5" fill="#b8080c"/><circle cx="1240.8" cy="681.9" r="3.5" fill="#b8080c"/>
<circle cx="1305.8" cy="665.9" r="3.5" fill="#1208ee"/><circle cx="1305.8" cy="679.9" r="3.5" fill="#1208ee"/><circle cx="1305.8" cy="711.7" r="3.5" fill="#1208ee"/>
<circle cx="1360.1" cy="641.6" r="3.5" fill="#b8080c"/><circle cx="1381.2" cy="645.4" r="3.5" fill="#b8080c"/><circle cx="1370.8" cy="651.2" r="3.5" fill="#b8080c"/>
<path class="ln" d="M1175.8 646V667.8M1165.2 646h21.2M1165.2 667.8h21.2" stroke-width="1.4"/><line class="ln" x1="1154.2" y1="656.1" x2="1197.4" y2="656.1" stroke-width="2.3"/>
<path class="ln" d="M1240.8 643.3V666.9M1230.2 643.3h21.2M1230.2 666.9h21.2" stroke-width="1.4"/><line class="ln" x1="1219.2" y1="653.9" x2="1262.4" y2="653.9" stroke-width="2.3"/>
<path class="ln" d="M1305.8 671.6V697.4M1295.2 671.6h21.2M1295.2 697.4h21.2" stroke-width="1.4"/><line class="ln" x1="1284.2" y1="683.6" x2="1327.4" y2="683.6" stroke-width="2.3"/>
<path class="ln" d="M1370.8 644.1V647.8M1360.2 644.1h21.2M1360.2 647.8h21.2" stroke-width="1.4"/><line class="ln" x1="1349.2" y1="645.8" x2="1392.4" y2="645.8" stroke-width="2.3"/>
<text class="st" x="1306.5" y="733.2">*</text>
</g>
<g>
<text class="ti" x="226.7" y="973.8">Fz10</text>
<text class="yl" transform="translate(45.6 1169) rotate(-90)">Fold change (Log2 sclae)</text>
<line x1="228.4" y1="984.9" x2="228.4" y2="1365.5" stroke="#2c2c2c" stroke-width="1.5" stroke-dasharray="3.3 3.25"/>
<line class="ln" x1="97.1" y1="1090.7" x2="356.9" y2="1090.7" stroke-width="1.5"/>
<path class="ln" d="M97.1 978.3V1369H357.7" stroke-width="1.55"/>
<text class="t" x="93.2" y="983.5">4</text>
<text class="t" x="93.2" y="1039.1">2</text>
<text class="t" x="93.2" y="1094.8">1</text>
<text class="t" x="93.2" y="1150.5">0.5</text>
<text class="t" x="93.2" y="1206.2">0.25</text>
<text class="t" x="93.2" y="1261.9">0.125</text>
<text class="t" x="93.2" y="1317.6">0.0625</text>
<text class="t" x="93.2" y="1373.3">0.03125</text>
<path class="ln" d="M97.1 979.1h-2.9M97.1 1034.8h-2.9M97.1 1090.5h-2.9M97.1 1146.2h-2.9M97.1 1201.9h-2.9M97.1 1257.6h-2.9M97.1 1313.3h-2.9M97.1 1369h-2.9M97.1 1025.3h-1.25M97.1 1016.9h-1.25M97.1 1009.2h-1.25M97.1 1002.2h-1.25M97.1 995.8h-1.25M97.1 989.8h-1.25M97.1 984.3h-1.25M97.1 1081h-1.25M97.1 1072.6h-1.25M97.1 1064.9h-1.25M97.1 1057.9h-1.25M97.1 1051.5h-1.25M97.1 1045.5h-1.25M97.1 1040h-1.25M97.1 1136.7h-1.25M97.1 1128.3h-1.25M97.1 1120.6h-1.25M97.1 1113.6h-1.25M97.1 1107.2h-1.25M97.1 1101.2h-1.25M97.1 1095.7h-1.25M97.1 1192.4h-1.25M97.1 1184h-1.25M97.1 1176.3h-1.25M97.1 1169.3h-1.25M97.1 1162.9h-1.25M97.1 1156.9h-1.25M97.1 1151.4h-1.25M97.1 1248.1h-1.25M97.1 1239.7h-1.25M97.1 1232h-1.25M97.1 1225h-1.25M97.1 1218.6h-1.25M97.1 1212.6h-1.25M97.1 1207.1h-1.25M97.1 1303.8h-1.25M97.1 1295.4h-1.25M97.1 1287.7h-1.25M97.1 1280.7h-1.25M97.1 1274.3h-1.25M97.1 1268.3h-1.25M97.1 1262.8h-1.25M97.1 1359.5h-1.25M97.1 1351.1h-1.25M97.1 1343.4h-1.25M97.1 1336.4h-1.25M97.1 1330h-1.25M97.1 1324h-1.25M97.1 1318.5h-1.25" stroke-width="1.1"/>
<text class="xl" x="160.4" y="1389.6">24hpa</text>
<text class="xl" x="293.1" y="1389.6">3dpa</text>
<circle cx="111.7" cy="989.5" r="3.5" fill="#1208ee"/><circle cx="111.7" cy="1006.3" r="3.4" fill="#b8080c"/>
<text class="lg" x="122.3" y="994.5">LPS</text><text class="lg" x="122.3" y="1011.2">SC200</text>
<circle cx="129.5" cy="1078.4" r="3.5" fill="#1208ee"/><circle cx="129.5" cy="1117.6" r="3.5" fill="#1208ee"/><circle cx="129.5" cy="1137.2" r="3.5" fill="#1208ee"/>
<circle cx="194.5" cy="1065.6" r="3.5" fill="#b8080c"/><circle cx="194.5" cy="1086" r="3.5" fill="#b8080c"/><circle cx="194.5" cy="1112.3" r="3.5" fill="#b8080c"/>
<circle cx="319" cy="1091.2" r="3.5" fill="#b8080c"/><circle cx="329.6" cy="1096.9" r="3.5" fill="#b8080c"/><circle cx="324.3" cy="1112.5" r="3.5" fill="#b8080c"/>
<path class="ln" d="M129.5 1090.8V1127.4M118.9 1090.8h21.2M118.9 1127.4h21.2" stroke-width="1.4"/><line class="ln" x1="107.9" y1="1107.1" x2="151.1" y2="1107.1" stroke-width="2.3"/>
<path class="ln" d="M194.5 1073.9V1100.1M183.9 1073.9h21.2M183.9 1100.1h21.2" stroke-width="1.4"/><line class="ln" x1="172.9" y1="1085.8" x2="216.1" y2="1085.8" stroke-width="2.3"/>
<path class="ln" d="M324.3 1094.1V1106.3M313.7 1094.1h21.2M313.7 1106.3h21.2" stroke-width="1.4"/><line class="ln" x1="302.7" y1="1099.7" x2="345.9" y2="1099.7" stroke-width="2.3"/>
<text class="nd" x="260.4" y="1084.1">ND</text>
</g>
<g>
<text class="ti" x="575.6" y="973.8">Ryk</text>
<text class="yl" transform="translate(394.5 1169) rotate(-90)">Fold change (Log2 sclae)</text>
<line x1="577.3" y1="984.9" x2="577.3" y2="1365.5" stroke="#2c2c2c" stroke-width="1.5" stroke-dasharray="3.3 3.25"/>
<line class="ln" x1="446" y1="1090.4" x2="705.8" y2="1090.4" stroke-width="1.5"/>
<path class="ln" d="M446 978.3V1369H706.6" stroke-width="1.55"/>
<text class="t" x="442.1" y="983.5">4</text>
<text class="t" x="442.1" y="1039.1">2</text>
<text class="t" x="442.1" y="1094.8">1</text>
<text class="t" x="442.1" y="1150.5">0.5</text>
<text class="t" x="442.1" y="1206.2">0.25</text>
<text class="t" x="442.1" y="1261.9">0.125</text>
<text class="t" x="442.1" y="1317.6">0.0625</text>
<text class="t" x="442.1" y="1373.3">0.03125</text>
<path class="ln" d="M446 979.1h-2.9M446 1034.8h-2.9M446 1090.5h-2.9M446 1146.2h-2.9M446 1201.9h-2.9M446 1257.6h-2.9M446 1313.3h-2.9M446 1369h-2.9M446 1025.3h-1.25M446 1016.9h-1.25M446 1009.2h-1.25M446 1002.2h-1.25M446 995.8h-1.25M446 989.8h-1.25M446 984.3h-1.25M446 1081h-1.25M446 1072.6h-1.25M446 1064.9h-1.25M446 1057.9h-1.25M446 1051.5h-1.25M446 1045.5h-1.25M446 1040h-1.25M446 1136.7h-1.25M446 1128.3h-1.25M446 1120.6h-1.25M446 1113.6h-1.25M446 1107.2h-1.25M446 1101.2h-1.25M446 1095.7h-1.25M446 1192.4h-1.25M446 1184h-1.25M446 1176.3h-1.25M446 1169.3h-1.25M446 1162.9h-1.25M446 1156.9h-1.25M446 1151.4h-1.25M446 1248.1h-1.25M446 1239.7h-1.25M446 1232h-1.25M446 1225h-1.25M446 1218.6h-1.25M446 1212.6h-1.25M446 1207.1h-1.25M446 1303.8h-1.25M446 1295.4h-1.25M446 1287.7h-1.25M446 1280.7h-1.25M446 1274.3h-1.25M446 1268.3h-1.25M446 1262.8h-1.25M446 1359.5h-1.25M446 1351.1h-1.25M446 1343.4h-1.25M446 1336.4h-1.25M446 1330h-1.25M446 1324h-1.25M446 1318.5h-1.25" stroke-width="1.1"/>
<text class="xl" x="509.3" y="1389.6">24hpa</text>
<text class="xl" x="642" y="1389.6">3dpa</text>
<circle cx="460.6" cy="989.5" r="3.5" fill="#1208ee"/><circle cx="460.6" cy="1006.3" r="3.4" fill="#b8080c"/>
<text class="lg" x="471.2" y="994.5">LPS</text><text class="lg" x="471.2" y="1011.2">SC200</text>
<circle cx="473.3" cy="1122.9" r="3.5" fill="#1208ee"/><circle cx="483.8" cy="1131.9" r="3.5" fill="#1208ee"/><circle cx="478.5" cy="1176" r="3.5" fill="#1208ee"/>
<circle cx="538.1" cy="1049.8" r="3.5" fill="#b8080c"/><circle cx="548.6" cy="1058.3" r="3.5" fill="#b8080c"/><circle cx="548.6" cy="1075.6" r="3.5" fill="#b8080c"/><circle cx="538.1" cy="1080.7" r="3.5" fill="#b8080c"/>
<circle cx="608.4" cy="1105.7" r="3.5" fill="#1208ee"/><circle cx="602.9" cy="1114.8" r="3.5" fill="#1208ee"/><circle cx="613.6" cy="1121.2" r="3.5" fill="#1208ee"/><circle cx="608.4" cy="1133.1" r="3.5" fill="#1208ee"/>
<circle cx="662.6" cy="1089.3" r="3.5" fill="#b8080c"/><circle cx="673.4" cy="1092.5" r="3.5" fill="#b8080c"/><circle cx="683.9" cy="1086.9" r="3.5" fill="#b8080c"/><circle cx="673.4" cy="1147.8" r="3.5" fill="#b8080c"/>
<path class="ln" d="M478.5 1126.7V1156.2M467.9 1126.7h21.2M467.9 1156.2h21.2" stroke-width="1.4"/><line class="ln" x1="456.9" y1="1140" x2="500.1" y2="1140" stroke-width="2.3"/>
<path class="ln" d="M543.4 1058.4V1072.2M532.8 1058.4h21.2M532.8 1072.2h21.2" stroke-width="1.4"/><line class="ln" x1="521.8" y1="1064.8" x2="565" y2="1064.8" stroke-width="2.3"/>
<path class="ln" d="M608.4 1112.3V1124M597.8 1112.3h21.2M597.8 1124h21.2" stroke-width="1.4"/><line class="ln" x1="586.8" y1="1117.8" x2="630" y2="1117.8" stroke-width="2.3"/>
<path class="ln" d="M673.4 1089.7V1113.3M662.8 1089.7h21.2M662.8 1113.3h21.2" stroke-width="1.4"/><line class="ln" x1="651.8" y1="1100.5" x2="695" y2="1100.5" stroke-width="2.3"/>
<path class="ln" d="M478.9 1183V1191.1H543.7V1110.1" stroke-width="1.4"/>
<text class="st" x="479.2" y="1176.1">**</text>
<text class="hs" x="513.6" y="1207.5">###</text>
</g>
<g>
<text class="ti" x="924.7" y="973.8">Ptk7</text>
<text class="yl" transform="translate(738.4 1169) rotate(-90)">Fold change (Log2 sclae)</text>
<line x1="926.4" y1="984.9" x2="926.4" y2="1365.5" stroke="#2c2c2c" stroke-width="1.5" stroke-dasharray="3.3 3.25"/>
<line class="ln" x1="795.1" y1="1076.4" x2="1054.9" y2="1076.4" stroke-width="1.5"/>
<path class="ln" d="M795.1 978.3V1369H1055.7" stroke-width="1.55"/>
<text class="t" x="791.2" y="983.5">4</text>
<text class="t" x="791.2" y="1032.2">2</text>
<text class="t" x="791.2" y="1080.9">1</text>
<text class="t" x="791.2" y="1129.7">0.5</text>
<text class="t" x="791.2" y="1178.4">0.25</text>
<text class="t" x="791.2" y="1227.1">0.125</text>
<text class="t" x="791.2" y="1275.9">0.0625</text>
<text class="t" x="791.2" y="1324.6">0.03125</text>
<text class="t" x="791.2" y="1373.3">0.015625</text>
<path class="ln" d="M795.1 979.1h-2.9M795.1 1027.8h-2.9M795.1 1076.6h-2.9M795.1 1125.3h-2.9M795.1 1174h-2.9M795.1 1222.8h-2.9M795.1 1271.5h-2.9M795.1 1320.3h-2.9M795.1 1369h-2.9M795.1 1019.6h-1.25M795.1 1012.1h-1.25M795.1 1005.4h-1.25M795.1 999.3h-1.25M795.1 993.7h-1.25M795.1 988.5h-1.25M795.1 983.6h-1.25M795.1 1068.3h-1.25M795.1 1060.9h-1.25M795.1 1054.2h-1.25M795.1 1048.1h-1.25M795.1 1042.4h-1.25M795.1 1037.2h-1.25M795.1 1032.4h-1.25M795.1 1117h-1.25M795.1 1109.6h-1.25M795.1 1102.9h-1.25M795.1 1096.8h-1.25M795.1 1091.2h-1.25M795.1 1086h-1.25M795.1 1081.1h-1.25M795.1 1165.8h-1.25M795.1 1158.4h-1.25M795.1 1151.7h-1.25M795.1 1145.5h-1.25M795.1 1139.9h-1.25M795.1 1134.7h-1.25M795.1 1129.9h-1.25M795.1 1214.5h-1.25M795.1 1207.1h-1.25M795.1 1200.4h-1.25M795.1 1194.3h-1.25M795.1 1188.6h-1.25M795.1 1183.4h-1.25M795.1 1178.6h-1.25M795.1 1263.2h-1.25M795.1 1255.8h-1.25M795.1 1249.1h-1.25M795.1 1243h-1.25M795.1 1237.4h-1.25M795.1 1232.2h-1.25M795.1 1227.3h-1.25M795.1 1312h-1.25M795.1 1304.6h-1.25M795.1 1297.9h-1.25M795.1 1291.8h-1.25M795.1 1286.1h-1.25M795.1 1280.9h-1.25M795.1 1276.1h-1.25M795.1 1360.7h-1.25M795.1 1353.3h-1.25M795.1 1346.6h-1.25M795.1 1340.5h-1.25M795.1 1334.9h-1.25M795.1 1329.7h-1.25M795.1 1324.8h-1.25" stroke-width="1.1"/>
<text class="xl" x="858.4" y="1389.6">24hpa</text>
<text class="xl" x="991.1" y="1389.6">3dpa</text>
<circle cx="809.7" cy="989.5" r="3.5" fill="#1208ee"/><circle cx="809.7" cy="1006.3" r="3.4" fill="#b8080c"/>
<text class="lg" x="820.3" y="994.5">LPS</text><text class="lg" x="820.3" y="1011.2">SC200</text>
<circle cx="833" cy="1103.9" r="3.5" fill="#1208ee"/><circle cx="822.4" cy="1113.5" r="3.5" fill="#1208ee"/><circle cx="827.5" cy="1186.8" r="3.5" fill="#1208ee"/><circle cx="827.5" cy="1342.1" r="3.5" fill="#1208ee"/>
<circle cx="892.7" cy="1066.4" r="3.5" fill="#b8080c"/><circle cx="897.8" cy="1077.1" r="3.5" fill="#b8080c"/><circle cx="887.2" cy="1084.6" r="3.5" fill="#b8080c"/>
<circle cx="957.7" cy="1279.1" r="3.5" fill="#1208ee"/><circle cx="962.8" cy="1291" r="3.5" fill="#1208ee"/><circle cx="952.2" cy="1299.3" r="3.5" fill="#1208ee"/>
<circle cx="1017.4" cy="1079.9" r="3.5" fill="#b8080c"/><circle cx="1027.8" cy="1087.5" r="3.5" fill="#b8080c"/><circle cx="1022.7" cy="1111.4" r="3.5" fill="#b8080c"/>
<path class="ln" d="M827.5 1121.2V1183M816.9 1121.2h21.2M816.9 1183h21.2" stroke-width="1.4"/><line class="ln" x1="805.9" y1="1145.5" x2="849.1" y2="1145.5" stroke-width="2.3"/>
<path class="ln" d="M892.7 1070.1V1080.5M882.1 1070.1h21.2M882.1 1080.5h21.2" stroke-width="1.4"/><line class="ln" x1="871.1" y1="1075.2" x2="914.3" y2="1075.2" stroke-width="2.3"/>
<path class="ln" d="M957.7 1283.1V1295.5M947.1 1283.1h21.2M947.1 1295.5h21.2" stroke-width="1.4"/><line class="ln" x1="936.1" y1="1288.6" x2="979.3" y2="1288.6" stroke-width="2.3"/>
<path class="ln" d="M1022.7 1083.1V1101M1012.1 1083.1h21.2M1012.1 1101h21.2" stroke-width="1.4"/><line class="ln" x1="1001.1" y1="1091.2" x2="1044.3" y2="1091.2" stroke-width="2.3"/>
<path class="ln" d="M827.5 1205.2V1210.9H892.9V1094.4" stroke-width="1.4"/>
<path class="ln" d="M957.9 1317.2V1323.4H1023.3V1124.2" stroke-width="1.4"/>
<text class="st" x="828.2" y="1208.3">*</text>
<text class="st" x="958.4" y="1320.3">***</text>
<text class="hs" x="860.1" y="1226.7">#</text>
<text class="hs" x="990.9" y="1339.3">###</text>
</g>
</svg>
</body></html>
